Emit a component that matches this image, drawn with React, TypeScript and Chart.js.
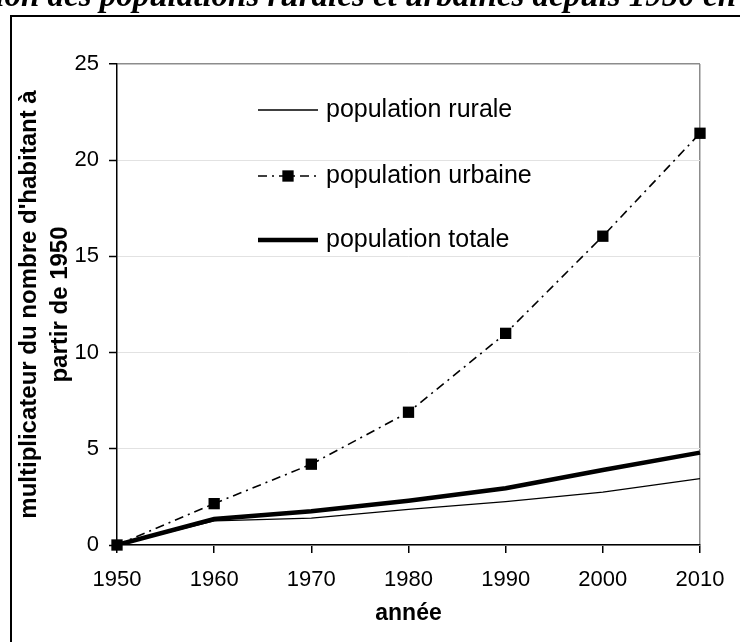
import React, { useEffect, useRef } from "react";
import { Chart, registerables } from "chart.js";

Chart.register(...registerables);

const years = ["1950", "1960", "1970", "1980", "1990", "2000", "2010"];
const rurale = [0, 1.25, 1.4, 1.85, 2.25, 2.75, 3.45];
const urbaine = [0, 2.15, 4.2, 6.9, 11.0, 16.05, 21.4];
const totale = [0, 1.35, 1.75, 2.3, 2.95, 3.9, 4.8];
const seriesLabels = ["population rurale", "population urbaine", "population totale"];
const yMin = 0;
const yMax = 25;
const yStep = 5;
const chartTitle = "Évolution des populations rurales et urbaines depuis 1950 en";
const yTitle = ["multiplicateur du nombre d'habitant à", "partir de 1950"];
const xTitle = "année";

const SANS = "'Liberation Sans', Arial, sans-serif";
const SERIF = "'Liberation Serif', 'Times New Roman', serif";

const framePlugin = {
  id: "frameAndTitle",
  beforeDraw(chart: any) {
    const ctx = chart.ctx;
    ctx.save();
    ctx.fillStyle = "#fff";
    ctx.fillRect(0, 0, chart.width, chart.height);
    ctx.fillStyle = "#000";
    ctx.font = `italic bold 33px ${SERIF}`;
    ctx.textAlign = "right";
    ctx.textBaseline = "alphabetic";
    ctx.fillText(chartTitle, 736, 6);
    ctx.strokeStyle = "#000";
    ctx.lineWidth = 2;
    ctx.strokeRect(11, 16, 900, 900);
    ctx.restore();
  },
};

const legendPlugin = {
  id: "insideLegend",
  afterDatasetsDraw(chart: any) {
    const ctx = chart.ctx;
    const rows = [110, 176, 240];
    const x0 = 258;
    const x1 = 318;
    ctx.save();
    chart.data.datasets.forEach((ds: any, i: number) => {
      const y = rows[i];
      ctx.beginPath();
      ctx.strokeStyle = ds.borderColor;
      ctx.lineWidth = ds.borderWidth;
      ctx.setLineDash(ds.borderDash || []);
      ctx.moveTo(x0, y);
      ctx.lineTo(x1, y);
      ctx.stroke();
      ctx.setLineDash([]);
      if (ds.pointRadius > 0) {
        const s = ds.pointRadius * Math.SQRT1_2;
        ctx.fillStyle = ds.pointBackgroundColor;
        ctx.fillRect((x0 + x1) / 2 - s, y - s, 2 * s, 2 * s);
      }
      ctx.fillStyle = "#000";
      ctx.font = `25px ${SANS}`;
      ctx.textAlign = "left";
      ctx.textBaseline = "middle";
      ctx.fillText(ds.label, 326, y);
    });
    ctx.restore();
  },
};

export default function App() {
  const canvasRef = useRef<HTMLCanvasElement | null>(null);

  useEffect(() => {
    if (!canvasRef.current) return;
    const chart = new Chart(canvasRef.current, {
      type: "line",
      data: {
        labels: years,
        datasets: [
          {
            label: seriesLabels[0],
            data: rurale,
            borderColor: "#000",
            borderWidth: 1.3,
            pointRadius: 0,
            tension: 0,
            fill: false,
          },
          {
            label: seriesLabels[1],
            data: urbaine,
            borderColor: "#000",
            borderWidth: 1.6,
            borderDash: [9, 5, 2, 5],
            pointStyle: "rect",
            pointRadius: 8,
            pointBackgroundColor: "#000",
            pointBorderColor: "#000",
            pointBorderWidth: 0,
            tension: 0,
            fill: false,
            clip: false,
          },
          {
            label: seriesLabels[2],
            data: totale,
            borderColor: "#000",
            borderWidth: 4.5,
            pointRadius: 0,
            tension: 0,
            fill: false,
          },
        ],
      } as any,
      options: {
        responsive: true,
        maintainAspectRatio: false,
        animation: false,
        layout: { padding: { left: 0, top: 64, right: 40, bottom: 0 } },
        plugins: {
          legend: { display: false },
          tooltip: { enabled: false },
          title: { display: false },
        },
        scales: {
          x: {
            type: "category",
            offset: false,
            grid: {
              drawOnChartArea: true,
              drawTicks: true,
              tickLength: 8,
              tickColor: "#000",
              tickWidth: 1.5,
              color: (c: any) => (c.index === years.length - 1 ? "#8c8c8c" : "rgba(0,0,0,0)"),
              lineWidth: 1.5,
            },
            border: { display: true, color: "#000", width: 1.5 },
            ticks: {
              color: "#000",
              padding: 14,
              maxRotation: 0,
              autoSkip: false,
              font: { family: SANS, size: 22 },
            },
            title: {
              display: true,
              text: xTitle,
              color: "#000",
              font: { family: SANS, size: 23, weight: "bold" },
              padding: { top: 0, bottom: 15 },
            },
            afterFit: (s: any) => {
              s.height = 97;
            },
          },
          y: {
            type: "linear",
            min: yMin,
            max: yMax,
            ticks: {
              stepSize: yStep,
              color: "#000",
              padding: 10,
              font: { family: SANS, size: 22 },
            },
            grid: {
              drawTicks: true,
              tickLength: 8,
              tickColor: "#000",
              tickWidth: 1.5,
              color: (c: any) => (c.tick && c.tick.value === yMax ? "#8c8c8c" : "#e2e2e2"),
              lineWidth: (c: any) => (c.tick && c.tick.value === yMax ? 1.5 : 1),
            },
            border: { display: true, color: "#000", width: 1.5 },
            title: {
              display: true,
              text: yTitle,
              color: "#000",
              font: { family: SANS, size: 24, weight: "bold", lineHeight: 1.3 },
              padding: { top: 14, bottom: 0 },
            },
            afterFit: (s: any) => {
              s.width = 117;
            },
          },
        },
      } as any,
      plugins: [framePlugin, legendPlugin],
    });
    return () => chart.destroy();
  }, []);

  return (
    <div style={{ position: "absolute", left: 0, top: 0, width: 740, height: 642 }}>
      <canvas ref={canvasRef} />
    </div>
  );
}
